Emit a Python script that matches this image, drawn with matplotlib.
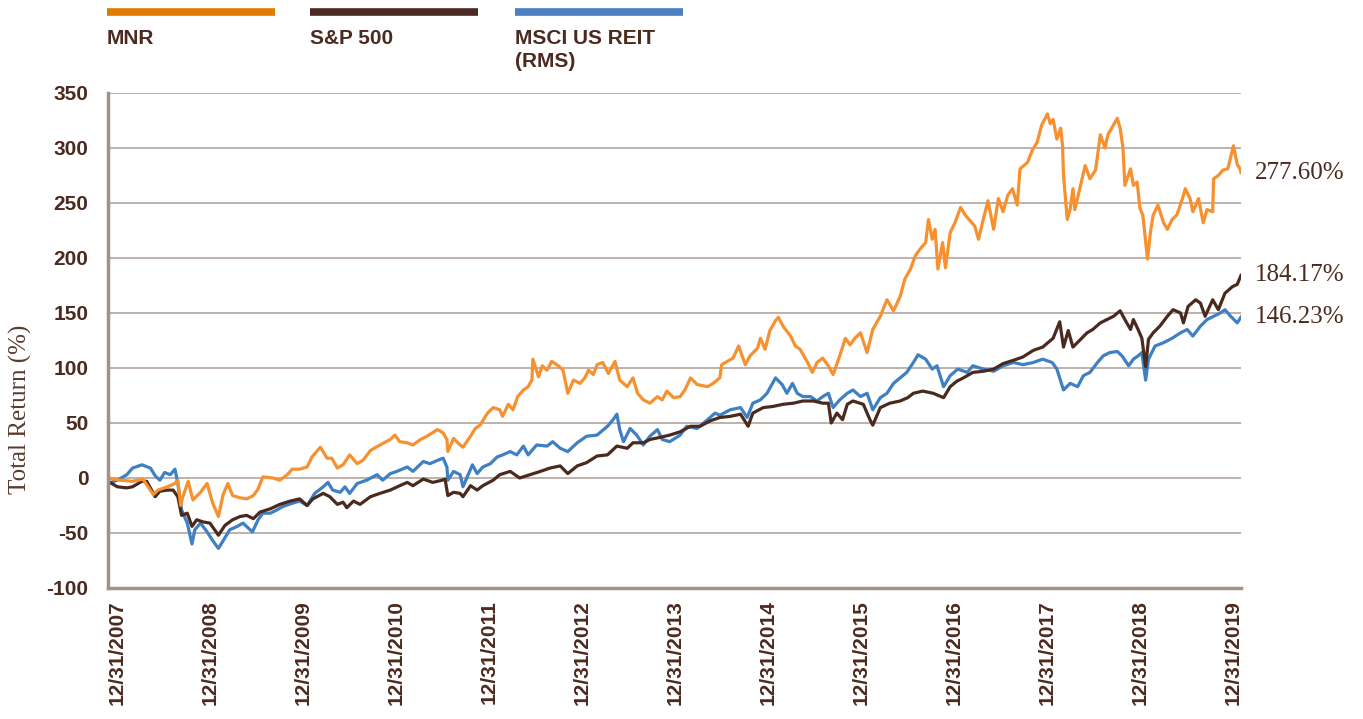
import matplotlib
matplotlib.use("Agg")
import matplotlib.pyplot as plt
from matplotlib.lines import Line2D

plt.rcParams["axes.unicode_minus"] = False

# years since 12/31/2007, total return in %
mnr = [
    (0.00, 0), (0.13, -2), (0.26, -3), (0.37, -1), (0.48, -15), (0.53, -11), (0.63, -8), (0.71, -5),
    (0.74, -2), (0.77, -25), (0.79, -18), (0.85, -3), (0.90, -20), (0.98, -13), (1.05, -5), (1.11, -23),
    (1.17, -35), (1.22, -15), (1.27, -5), (1.32, -16), (1.40, -18), (1.47, -19), (1.54, -16), (1.59, -10),
    (1.64, 1), (1.75, 0), (1.82, -2), (1.90, 3), (1.95, 8), (2.03, 8), (2.11, 10), (2.16, 19),
    (2.25, 28), (2.32, 18), (2.37, 18), (2.43, 9), (2.49, 12), (2.56, 21), (2.64, 13), (2.70, 16),
    (2.78, 25), (2.88, 30), (2.99, 35), (3.04, 39), (3.09, 33), (3.17, 32), (3.23, 30), (3.31, 35),
    (3.38, 38), (3.49, 44), (3.55, 41), (3.59, 35), (3.60, 24), (3.66, 36), (3.73, 30), (3.76, 28),
    (3.84, 38), (3.89, 45), (3.94, 48), (4.02, 59), (4.08, 64), (4.15, 62), (4.18, 56), (4.24, 67),
    (4.29, 62), (4.34, 74), (4.40, 80), (4.45, 83), (4.49, 89), (4.50, 108), (4.56, 92), (4.60, 102),
    (4.65, 98), (4.70, 106), (4.77, 102), (4.82, 98), (4.87, 77), (4.93, 89), (5.00, 86), (5.05, 91),
    (5.09, 98), (5.14, 94), (5.18, 103), (5.24, 105), (5.30, 95), (5.37, 106), (5.42, 89), (5.50, 83),
    (5.56, 91), (5.61, 77), (5.67, 71), (5.74, 68), (5.82, 74), (5.87, 71), (5.92, 79), (5.99, 73),
    (6.06, 74), (6.11, 80), (6.17, 91), (6.24, 85), (6.35, 83), (6.41, 86), (6.48, 91), (6.50, 103),
    (6.56, 106), (6.62, 109), (6.68, 120), (6.75, 103), (6.80, 111), (6.88, 118), (6.91, 127), (6.96, 117),
    (7.01, 134), (7.07, 143), (7.10, 146), (7.15, 138), (7.23, 129), (7.28, 120), (7.33, 117), (7.41, 105),
    (7.46, 96), (7.51, 105), (7.57, 109), (7.63, 102), (7.68, 94), (7.75, 111), (7.81, 127), (7.86, 121),
    (7.91, 127), (7.97, 132), (8.04, 114), (8.10, 135), (8.18, 147), (8.25, 162), (8.32, 152), (8.39, 165),
    (8.44, 181), (8.50, 190), (8.55, 202), (8.60, 208), (8.66, 214), (8.69, 235), (8.73, 217), (8.76, 226),
    (8.79, 190), (8.84, 214), (8.87, 191), (8.92, 223), (8.97, 232), (9.03, 246), (9.08, 239), (9.13, 234),
    (9.18, 229), (9.22, 217), (9.27, 235), (9.32, 252), (9.38, 226), (9.43, 254), (9.48, 242), (9.53, 257),
    (9.58, 263), (9.63, 248), (9.66, 281), (9.74, 287), (9.79, 298), (9.84, 305), (9.89, 321), (9.95, 331),
    (9.98, 322), (10.01, 326), (10.05, 308), (10.09, 318), (10.11, 302), (10.12, 275), (10.16, 235), (10.19, 244),
    (10.22, 263), (10.24, 244), (10.30, 266), (10.35, 284), (10.40, 272), (10.46, 280), (10.51, 312), (10.56, 300),
    (10.59, 312), (10.65, 321), (10.69, 327), (10.72, 318), (10.75, 300), (10.77, 266), (10.83, 281), (10.86, 266),
    (10.90, 269), (10.93, 245), (10.96, 239), (11.01, 199), (11.04, 223), (11.07, 239), (11.12, 248), (11.18, 232),
    (11.22, 226), (11.27, 235), (11.32, 239), (11.38, 254), (11.41, 263), (11.46, 254), (11.49, 242), (11.55, 254),
    (11.60, 232), (11.64, 244), (11.70, 242), (11.71, 272), (11.76, 275), (11.81, 280), (11.86, 281), (11.92, 302),
    (11.96, 285), (11.99, 281), (12.00, 277.6),
]

sp500 = [
    (0.00, -3), (0.10, -8), (0.20, -9), (0.26, -8), (0.36, -3), (0.41, -3), (0.50, -17), (0.55, -12),
    (0.63, -11), (0.69, -11), (0.74, -17), (0.78, -34), (0.84, -32), (0.89, -44), (0.94, -38), (1.01, -40),
    (1.08, -41), (1.17, -52), (1.24, -43), (1.32, -38), (1.40, -35), (1.47, -34), (1.54, -37), (1.61, -31),
    (1.72, -28), (1.82, -24), (1.93, -21), (2.03, -19), (2.11, -25), (2.17, -19), (2.28, -14), (2.35, -17),
    (2.43, -24), (2.49, -22), (2.53, -27), (2.60, -21), (2.67, -24), (2.78, -17), (2.88, -14), (2.99, -11),
    (3.09, -7), (3.17, -4), (3.23, -7), (3.34, -1), (3.44, -4), (3.54, -2), (3.57, -1), (3.60, -16),
    (3.66, -13), (3.73, -14), (3.76, -17), (3.84, -7), (3.91, -11), (3.97, -7), (4.08, -2), (4.15, 3),
    (4.26, 6), (4.36, 0), (4.47, 3), (4.58, 6), (4.68, 9), (4.79, 11), (4.87, 4), (4.97, 11),
    (5.07, 14), (5.18, 20), (5.29, 21), (5.39, 29), (5.50, 27), (5.56, 32), (5.67, 32), (5.74, 35),
    (5.85, 37), (5.95, 39), (6.06, 42), (6.17, 47), (6.27, 47), (6.38, 52), (6.48, 55), (6.59, 56),
    (6.70, 58), (6.78, 47), (6.83, 59), (6.94, 64), (7.04, 65), (7.15, 67), (7.26, 68), (7.36, 70),
    (7.47, 70), (7.57, 68), (7.63, 68), (7.66, 50), (7.72, 59), (7.78, 53), (7.83, 67), (7.89, 70),
    (8.00, 67), (8.07, 53), (8.10, 48), (8.18, 64), (8.28, 68), (8.39, 70), (8.47, 73), (8.53, 77),
    (8.63, 79), (8.74, 77), (8.85, 73), (8.92, 83), (8.99, 88), (9.06, 91), (9.16, 96), (9.27, 97),
    (9.38, 99), (9.48, 104), (9.59, 107), (9.69, 110), (9.80, 116), (9.90, 119), (10.01, 127), (10.08, 142),
    (10.12, 119), (10.17, 134), (10.22, 119), (10.30, 126), (10.37, 132), (10.43, 135), (10.51, 141), (10.58, 144),
    (10.65, 147), (10.72, 152), (10.77, 144), (10.83, 135), (10.86, 144), (10.91, 135), (10.95, 127), (10.99, 101),
    (11.02, 126), (11.07, 132), (11.14, 138), (11.22, 147), (11.28, 153), (11.36, 150), (11.39, 141), (11.44, 156),
    (11.52, 162), (11.57, 159), (11.62, 147), (11.70, 162), (11.76, 153), (11.83, 168), (11.91, 174), (11.96, 176),
    (12.00, 184.17),
]

reit = [
    (0.00, -5), (0.10, -2), (0.20, 3), (0.26, 9), (0.36, 12), (0.45, 9), (0.50, 2), (0.55, -2),
    (0.60, 5), (0.66, 3), (0.71, 8), (0.74, -5), (0.78, -29), (0.84, -41), (0.89, -60), (0.92, -47),
    (0.98, -41), (1.05, -49), (1.11, -57), (1.17, -64), (1.22, -57), (1.29, -47), (1.37, -44), (1.43, -41),
    (1.53, -49), (1.59, -38), (1.64, -32), (1.72, -32), (1.79, -29), (1.85, -26), (1.95, -23), (2.03, -21),
    (2.11, -25), (2.19, -14), (2.28, -8), (2.33, -4), (2.38, -11), (2.46, -13), (2.51, -8), (2.56, -14),
    (2.64, -5), (2.74, -2), (2.85, 3), (2.91, -2), (2.99, 4), (3.06, 6), (3.17, 10), (3.23, 6),
    (3.34, 15), (3.41, 13), (3.49, 16), (3.55, 18), (3.59, 10), (3.60, -2), (3.66, 6), (3.73, 3),
    (3.76, -8), (3.86, 12), (3.91, 4), (3.97, 10), (4.05, 13), (4.12, 19), (4.18, 21), (4.26, 24),
    (4.33, 21), (4.40, 29), (4.45, 21), (4.54, 30), (4.65, 29), (4.71, 33), (4.79, 27), (4.87, 24),
    (4.97, 32), (5.07, 38), (5.18, 39), (5.29, 47), (5.35, 53), (5.39, 58), (5.42, 44), (5.46, 33),
    (5.53, 45), (5.60, 39), (5.67, 30), (5.74, 38), (5.82, 44), (5.87, 35), (5.95, 33), (6.06, 39),
    (6.13, 47), (6.24, 45), (6.35, 53), (6.43, 59), (6.48, 57), (6.59, 62), (6.70, 64), (6.77, 55),
    (6.83, 68), (6.91, 71), (6.98, 77), (7.07, 91), (7.14, 85), (7.19, 77), (7.25, 86), (7.30, 77),
    (7.36, 74), (7.44, 74), (7.51, 70), (7.57, 74), (7.63, 77), (7.68, 64), (7.75, 71), (7.83, 77),
    (7.89, 80), (7.97, 74), (8.04, 77), (8.10, 62), (8.18, 73), (8.25, 77), (8.32, 86), (8.39, 91),
    (8.46, 96), (8.53, 105), (8.58, 112), (8.66, 108), (8.73, 99), (8.78, 102), (8.85, 83), (8.92, 93),
    (9.00, 99), (9.10, 96), (9.16, 102), (9.27, 99), (9.38, 97), (9.48, 102), (9.59, 105), (9.69, 103),
    (9.80, 105), (9.90, 108), (10.00, 105), (10.05, 99), (10.12, 80), (10.19, 86), (10.27, 83), (10.33, 93),
    (10.40, 96), (10.48, 105), (10.54, 111), (10.61, 114), (10.69, 115), (10.74, 111), (10.81, 102), (10.86, 108),
    (10.91, 111), (10.95, 114), (10.99, 89), (11.02, 108), (11.09, 120), (11.18, 123), (11.27, 127), (11.36, 132),
    (11.43, 135), (11.49, 129), (11.57, 138), (11.64, 144), (11.71, 147), (11.78, 150), (11.83, 153), (11.89, 147),
    (11.96, 141), (12.00, 146.23),
]

series_names = ["MNR", "S&P 500", "MSCI US REIT\n(RMS)"]
end_labels = ["277.60%", "184.17%", "146.23%"]
date_labels = ["12/31/%d" % y for y in range(2007, 2020)]
y_ticks = [-100, -50, 0, 50, 100, 150, 200, 250, 300, 350]

text_col = "#4b2a1f"
axis_col = "#a39189"
grid_col = "#b8aca5"
line_cols = ["#f7902f", "#4a2a1e", "#3f7fc4"]
bar_cols = ["#e07b00", "#4a2a22", "#4a7fc1"]

fig = plt.figure(figsize=(13.63, 7.19), dpi=100)
ax = fig.add_axes([0.0792, 0.1822, 0.8313, 0.6885])

# blue first, brown over it, orange on top
for data, col in [(reit, line_cols[2]), (sp500, line_cols[1]), (mnr, line_cols[0])]:
    t = [p[0] for p in data]
    v = [p[1] for p in data]
    ax.plot(t, v, color=col, lw=2.3, solid_joinstyle="round")

ax.set_xlim(0, 12)
ax.set_ylim(-100, 350)
ax.set_yticks(y_ticks)
# the date labels in the original sit slightly inside the axis ends
ax.set_xticks([0.1 + i * 11.82 / 12 for i in range(13)])
ax.set_xticklabels(date_labels, rotation=90, va="top", ha="center")
for lab in ax.get_xticklabels() + ax.get_yticklabels():
    lab.set_fontfamily("Liberation Sans")
    lab.set_fontweight("bold")
    lab.set_fontsize(15)
    lab.set_color(text_col)
ax.tick_params(axis="both", length=0)
ax.tick_params(axis="y", pad=14)
ax.tick_params(axis="x", pad=9)

for y in y_ticks[1:]:
    ax.axhline(y, color=grid_col, lw=1.3, zorder=0)

for s in ["top", "right"]:
    ax.spines[s].set_visible(False)
for s in ["left", "bottom"]:
    ax.spines[s].set_color(axis_col)
    ax.spines[s].set_linewidth(2.5)

ax.set_ylabel("Total Return (%)", family="Liberation Serif", fontsize=18, color="#5a3b30")
ax.yaxis.set_label_coords(-0.067, 0.36)

# end values
for data, lab in zip([mnr, sp500, reit], end_labels):
    ax.annotate(lab, xy=(12, data[-1][1]), xytext=(10, 0), textcoords="offset points",
                va="center", ha="left", family="Liberation Serif", fontsize=18,
                color=text_col, annotation_clip=False)

# legend strip above the plot
leg_x = [0.0785, 0.2275, 0.3778]
for x0, name, col in zip(leg_x, series_names, bar_cols):
    fig.add_artist(Line2D([x0, x0 + 0.1233], [0.984, 0.984], color=col, lw=5.5,
                          solid_capstyle="butt", transform=fig.transFigure))
    fig.text(x0, 0.960, name, va="top", ha="left", family="Liberation Sans",
             fontweight="bold", fontsize=15, color=text_col, linespacing=1.3)

fig.savefig("out.png", dpi=100)
